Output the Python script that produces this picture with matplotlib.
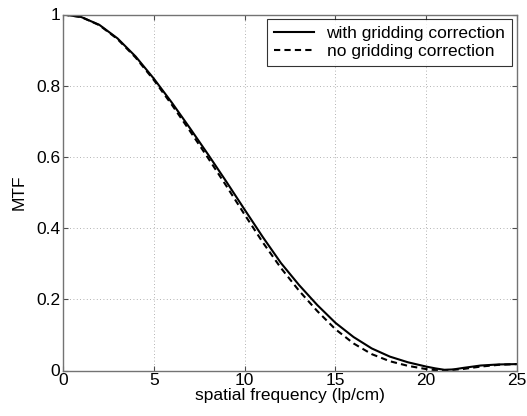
import matplotlib
matplotlib.use("Agg")
import matplotlib.pyplot as plt

# Data
freq = [0, 1, 2, 3, 4, 5, 6, 7, 8, 9, 10, 11, 12, 13, 14, 15, 16, 17, 18, 19,
        20, 20.5, 21, 21.5, 22, 23, 24, 25]
mtf_corr = [1.000, 0.993, 0.971, 0.933, 0.882, 0.820, 0.752, 0.680, 0.606,
            0.530, 0.452, 0.375, 0.302, 0.240, 0.184, 0.134, 0.094, 0.062,
            0.039, 0.023, 0.011, 0.006, 0.002, 0.003, 0.007, 0.014, 0.017, 0.018]
mtf_nocorr = [1.000, 0.993, 0.970, 0.931, 0.879, 0.816, 0.746, 0.672, 0.596,
              0.518, 0.438, 0.360, 0.288, 0.224, 0.167, 0.116, 0.076, 0.046,
              0.026, 0.013, 0.004, 0.001, 0.001, 0.002, 0.004, 0.011, 0.016, 0.018]
labels = ["with gridding correction", "no gridding correction"]
xticks = [0, 5, 10, 15, 20, 25]
yticks = [0, 0.2, 0.4, 0.6, 0.8, 1]
ytick_labels = ["0", "0.2", "0.4", "0.6", "0.8", "1"]

plt.rcParams['font.family'] = ['Liberation Sans', 'DejaVu Sans']
FS = 12.5

fig = plt.figure(figsize=(5.27, 4.16), dpi=100)
ax = fig.add_axes([63/527, 1 - 370.5/416, (517 - 63)/527, (370.5 - 14.5)/416])

ax.plot(freq, mtf_corr, color='black', lw=1.5, ls='-', label=labels[0],
        solid_joinstyle='round')
ax.plot(freq, mtf_nocorr, color='black', lw=1.5, ls=(0, (3, 2)), label=labels[1])

ax.set_xlim(0, 25)
ax.set_ylim(0, 1)
ax.set_xticks(xticks)
ax.set_yticks(yticks)
ax.set_yticklabels(ytick_labels)
ax.tick_params(direction='in', length=3.5, width=0.8, top=True, right=True,
               labelsize=FS, colors='0.3', labelcolor='black', pad=2)
for s in ax.spines.values():
    s.set_color('0.45')
    s.set_linewidth(1.0)
ax.grid(True, color='0.6', ls=(0, (1, 3)), lw=0.6)

ax.set_xlabel("spatial frequency (lp/cm)", fontsize=FS, labelpad=0)
ax.set_ylabel("MTF", fontsize=FS, labelpad=7)

leg = fig.legend(loc='upper right', bbox_to_anchor=(512/527, 1 - 19/416),
                 borderaxespad=0, fontsize=FS, frameon=True, fancybox=False,
                 handlelength=2.3, handletextpad=0.75, labelspacing=0.2,
                 borderpad=0.38)
leg.get_frame().set_edgecolor('black')
leg.get_frame().set_linewidth(0.8)

fig.savefig("out.png", dpi=100)
